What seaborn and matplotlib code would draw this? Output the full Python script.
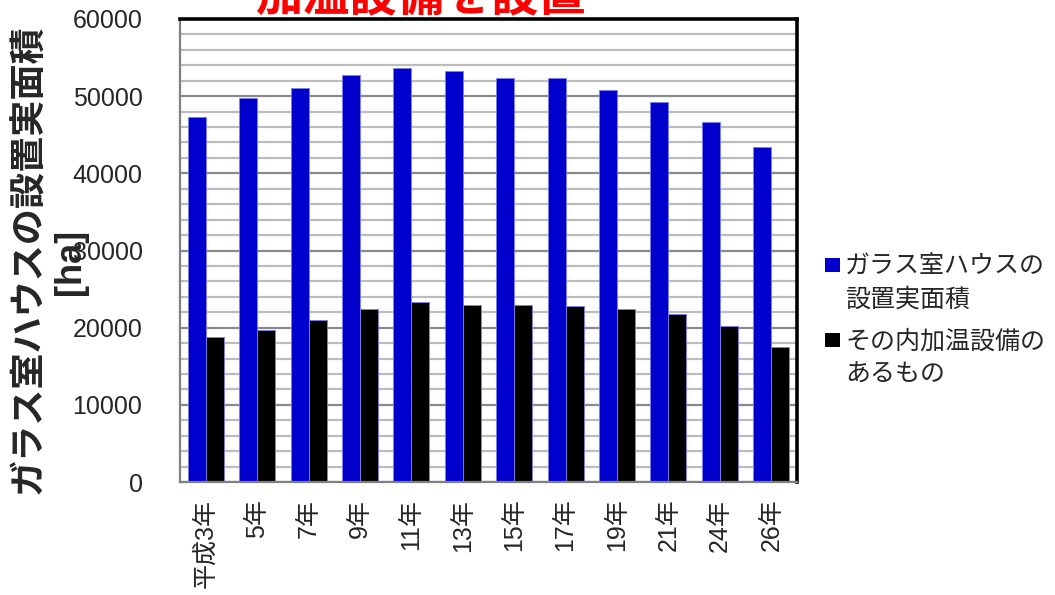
import matplotlib
matplotlib.use("Agg")
import matplotlib.pyplot as plt
from matplotlib.patches import Rectangle
from matplotlib.ticker import MultipleLocator
import seaborn as sns
import pandas as pd

# Data
years = ["平成3年", "5年", "7年", "9年", "11年", "13年", "15年", "17年", "19年", "21年", "24年", "26年"]
glass_area = [47300, 49700, 51100, 52700, 53600, 53300, 52400, 52300, 50800, 49200, 46600, 43400]
heated_area = [18800, 19700, 21000, 22400, 23300, 22900, 23000, 22800, 22400, 21800, 20200, 17500]
series_names = ["ガラス室ハウスの\n設置実面積", "その内加温設備の\nあるもの"]
series_colors = ["#0000CC", "#000000"]
title_text = "加温設備を設置"
ylabel_main = "ガラス室ハウスの設置実面積"
ylabel_unit = "[ha]"

df = pd.DataFrame({
    "year": years * 2,
    "value": glass_area + heated_area,
    "series": [series_names[0]] * len(years) + [series_names[1]] * len(years),
})

sns.set_style("white")
plt.rcParams["font.family"] = ["Liberation Sans", "Noto Sans CJK JP", "DejaVu Sans"]

W, H = 1055, 595
fig = plt.figure(figsize=(W / 100, H / 100), dpi=100)
ax = fig.add_axes([180 / W, 1 - 482 / H, (797 - 180) / W, (482 - 19) / H])

sns.barplot(data=df, x="year", y="value", hue="series", order=years,
            hue_order=series_names, palette=series_colors, saturation=1,
            width=0.7, dodge=True, legend=False, ax=ax,
            edgecolor="#8080ee", linewidth=0.6)

ax.set_xlim(-0.5, len(years) - 0.5)
ax.set_ylim(0, 60000)
ax.yaxis.set_major_locator(MultipleLocator(10000))
ax.yaxis.set_minor_locator(MultipleLocator(2000))
ax.set_axisbelow(True)
ax.grid(which="minor", axis="y", color="#bcbcbc", linewidth=1.6)
ax.grid(which="major", axis="y", color="#8a8a8a", linewidth=1.6)
ax.set_xlabel("")
ax.set_ylabel("")

ax.tick_params(axis="y", which="major", length=5, color="#808080", pad=22, labelsize=18)
ax.tick_params(axis="y", which="minor", length=0)
ax.tick_params(axis="x", length=0, pad=12, labelsize=18, rotation=90)
for lab in ax.get_xticklabels():
    lab.set_va("top")
    lab.set_ha("center")

for side in ["top", "right"]:
    ax.spines[side].set_color("black")
    ax.spines[side].set_linewidth(2.6)
for side in ["left", "bottom"]:
    ax.spines[side].set_color("#808080")
    ax.spines[side].set_linewidth(1.6)

# Title (red, bold)
fig.text(420 / W, 1 - 10 / H, title_text, color="#FF0000", fontsize=34,
         fontweight="bold", ha="center", va="baseline")

# Y-axis label: main line and unit line
fig.text(30 / W, 1 - 259 / H, ylabel_main, rotation=90, fontsize=26,
         fontweight="bold", ha="center", va="center")
fig.text(70 / W, 1 - 262 / H, ylabel_unit, rotation=90, fontsize=26,
         fontweight="bold", ha="center", va="center")

# Legend
legend_rows = [265, 340]
for name, color, yc in zip(series_names, series_colors, legend_rows):
    fig.patches.append(Rectangle((825 / W, 1 - (yc + 7) / H), 15 / W, 14 / H,
                                 transform=fig.transFigure, facecolor=color,
                                 edgecolor="none"))
    fig.text(845 / W, 1 - (yc - 10) / H, name, fontsize=18, ha="left", va="top",
             linespacing=1.45)

fig.savefig("out.png", dpi=100)
